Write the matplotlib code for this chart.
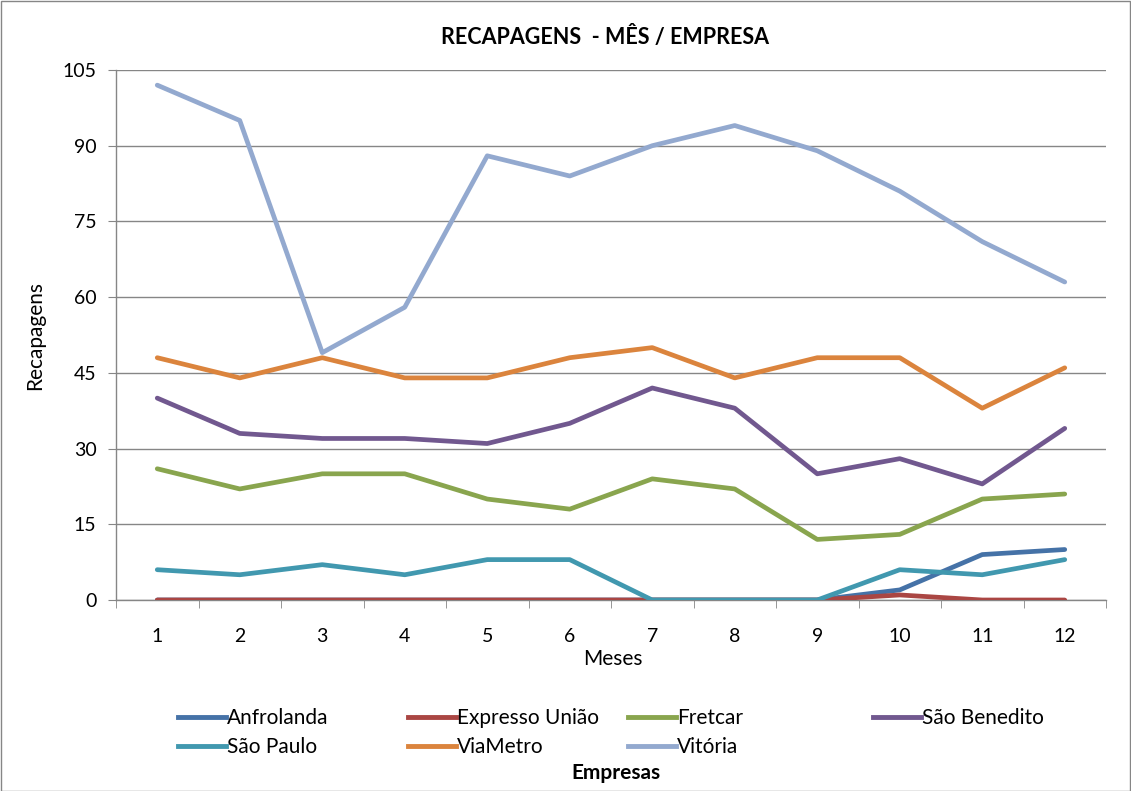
import matplotlib
matplotlib.use("Agg")
import matplotlib.pyplot as plt
from matplotlib.patches import Rectangle
from matplotlib.lines import Line2D

plt.rcParams['font.family'] = ['Lato', 'DejaVu Sans']

meses = [1, 2, 3, 4, 5, 6, 7, 8, 9, 10, 11, 12]
anfrolanda = [0, 0, 0, 0, 0, 0, 0, 0, 0, 2, 9, 10]
expresso_uniao = [0, 0, 0, 0, 0, 0, 0, 0, 0, 1, 0, 0]
fretcar = [26, 22, 25, 25, 20, 18, 24, 22, 12, 13, 20, 21]
sao_benedito = [40, 33, 32, 32, 31, 35, 42, 38, 25, 28, 23, 34]
sao_paulo = [6, 5, 7, 5, 8, 8, 0, 0, 0, 6, 5, 8]
viametro = [48, 44, 48, 44, 44, 48, 50, 44, 48, 48, 38, 46]
vitoria = [102, 95, 49, 58, 88, 84, 90, 94, 89, 81, 71, 63]

names = ['Anfrolanda', 'Expresso União', 'Fretcar', 'São Benedito',
         'São Paulo', 'ViaMetro', 'Vitória']
series = [anfrolanda, expresso_uniao, fretcar, sao_benedito,
          sao_paulo, viametro, vitoria]
colors = ['#4572A7', '#AA4643', '#89A54E', '#71588F',
          '#4198AF', '#DB843D', '#93A9CF']
yticks = [0, 15, 30, 45, 60, 75, 90, 105]

W, H = 1131, 791
fig = plt.figure(figsize=(W / 100, H / 100), dpi=100)
ax = fig.add_axes([116 / W, 1 - 600 / H, (1106 - 116) / W, (600 - 70) / H])

for s, c, n in zip(series, colors, names):
    ax.plot(meses, s, color=c, lw=3.4, label=n, solid_joinstyle='round',
            solid_capstyle='round', zorder=3)

ax.set_xlim(0.5, 12.5)
ax.set_ylim(0, 105)
ax.set_yticks(yticks)
ax.set_xticks(meses)
ax.set_xticks([m - 0.5 for m in meses] + [12.5], minor=True)
ax.tick_params(axis='x', which='major', length=0, pad=20, labelsize=14)
ax.tick_params(axis='x', which='minor', length=6, direction='out', color='#868686')
ax.tick_params(axis='y', length=6, direction='out', color='#868686', labelsize=14, pad=8)
ax.grid(axis='y', color='#868686', lw=1)
ax.set_axisbelow(True)
for sp in ['top', 'right']:
    ax.spines[sp].set_visible(False)
for sp in ['left', 'bottom']:
    ax.spines[sp].set_color('#868686')
    ax.spines[sp].set_linewidth(1)
ax.spines['bottom'].set_zorder(2.5)

fig.text(35 / W, 1 - 335 / H, 'Recapagens', rotation=90, ha='center', va='center',
         fontsize=15)
fig.text(613 / W, 1 - 659 / H, 'Meses', ha='center', va='center', fontsize=15)

fig.text(605 / W, 1 - 37 / H, 'RECAPAGENS  - MÊS / EMPRESA', ha='center', va='center',
         fontsize=15.5, fontweight='bold')

# legend columns
handles = [Line2D([], [], color=c, lw=3.5) for c in colors]
col_x = [178, 408, 628, 873]
cols = [[0, 4], [1, 5], [2, 6], [3]]
for x, idx in zip(col_x, cols):
    fig.legend([handles[i] for i in idx], [names[i] for i in idx],
               loc='upper left', bbox_to_anchor=(x / W, 1 - 708 / H),
               frameon=False, fontsize=15, handlelength=2.3, handletextpad=0.05,
               labelspacing=0.45, borderpad=0, borderaxespad=0)
fig.text(616 / W, 1 - 773 / H, 'Empresas', ha='center', va='center',
         fontsize=15, fontweight='bold')

fig.patches.append(Rectangle((0.5 / W, 0.5 / H), 1 - 1.5 / W, 1 - 1.5 / H,
                             transform=fig.transFigure, fill=False,
                             edgecolor='#868686', lw=1))

fig.savefig('out.png', dpi=100)
